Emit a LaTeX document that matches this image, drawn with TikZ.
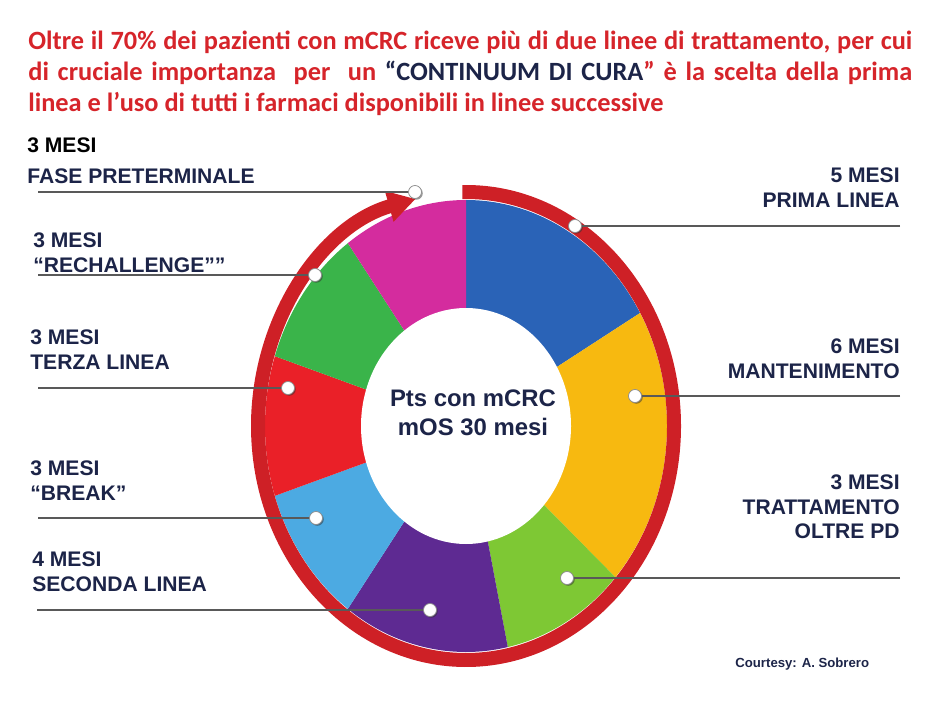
\documentclass[tikz,border=0pt]{standalone}
\usepackage{fontspec}
\setmainfont{Liberation Sans}
\newfontfamily\titlefont{Carlito}
\usetikzlibrary{arrows.meta,shadows}

\definecolor{titlered}{RGB}{214,36,42}
\definecolor{navy}{RGB}{28,36,72}
\definecolor{ringred}{RGB}{206,32,38}
\definecolor{segblue}{RGB}{42,99,183}
\definecolor{segyellow}{RGB}{247,185,16}
\definecolor{seglime}{RGB}{126,200,52}
\definecolor{segpurple}{RGB}{94,42,146}
\definecolor{segsky}{RGB}{76,170,226}
\definecolor{segred}{RGB}{234,32,40}
\definecolor{seggreen}{RGB}{58,180,74}
\definecolor{segmagenta}{RGB}{212,44,158}

\tikzset{
    mesitext/.style={inner sep=0pt, text=navy, font=\bfseries\fontsize{12}{14.2}\selectfont},
    leadline/.style={draw=black!65, line width=0.35mm},
    bead/.style={circle, fill=white, draw=black!45, line width=0.15mm, minimum size=2.6mm, inner sep=0pt,
        drop shadow={shadow xshift=0.25mm, shadow yshift=-0.25mm, fill=black!80}},
}

\begin{document}
\begin{tikzpicture}[x=0.2mm, y=0.2mm]
    \def\cx{466}
    \def\cy{-426}
    \useasboundingbox (0,0) rectangle (938,-704);

    % Title
    \node[anchor=north west, text width=176.8mm, align=justify, inner sep=0pt, text=titlered,
        font=\titlefont\bfseries\fontsize{15}{17.6}\selectfont] (title) at (28,-31)
        {Oltre il 70\% dei pazienti con mCRC riceve più di due linee di trattamento, per cui\linebreak
         di cruciale importanza\ \ per\ \ un {\color{navy}“CONTINUUM DI CURA}” è la scelta della prima\linebreak
         linea e l’uso di tutti i farmaci disponibili in linee successive};

    % Wheel, 12 degrees a month
    \coordinate (c) at (\cx,\cy);
    \foreach \a/\b/\col in {90/30/segblue, 30/-42/segyellow, -42/-78/seglime, -78/-126/segpurple,
                           -126/-162/segsky, -162/-198/segred, -198/-234/seggreen, -234/-270/segmagenta}
        \fill[\col] (c) -- ++(\a:201 and 226) arc[start angle=\a, end angle=\b, x radius=201, y radius=226] -- cycle;
    \fill[white] (c) ellipse[x radius=105, y radius=118];

    % Ring with arrow
    \draw[ringred, line width=2.8mm, -{Triangle[length=5.5mm, width=6mm]}]
        (c) ++(91:208 and 234) arc[start angle=91, end angle=-256, x radius=208, y radius=234];

    \node[font=\bfseries\fontsize{13.6}{16.5}\selectfont, text=navy, align=center] (pts) at (473,-413)
        {Pts con mCRC\\mOS 30 mesi};

    % Labels
    \node[mesitext, anchor=north west, align=left] (pre) at (27,-137)
        {{\color{black}3 MESI}\\[3.4pt]FASE PRETERMINALE};
    \node[mesitext, anchor=north west, align=left] (rech) at (33,-232) {3 MESI\\“RECHALLENGE””};
    \node[mesitext, anchor=north west, align=left] (terza) at (30,-329) {3 MESI\\TERZA LINEA};
    \node[mesitext, anchor=north west, align=left] (brk) at (30,-460) {3 MESI\\“BREAK”};
    \node[mesitext, anchor=north west, align=left] (sec) at (32,-551) {4 MESI\\SECONDA LINEA};
    \node[mesitext, anchor=north east, align=right] (prima) at (900,-167) {5 MESI\\PRIMA LINEA};
    \node[mesitext, anchor=north east, align=right] (mant) at (900,-338) {6 MESI\\MANTENIMENTO};
    \node[mesitext, anchor=north east, align=right] (oltre) at (900,-474) {3 MESI\\TRATTAMENTO\\OLTRE PD};

    % Leader lines and beads
    \foreach \n/\xs/\xd/\y in {pre/38/415/192, rech/38/315/275, terza/38/288/388, brk/38/316/518,
                             sec/37/430/610, prima/900/575/226, mant/900/635/396, oltre/900/567/578} {
        \coordinate (\n end) at (\xs,-\y);
        \node[bead] (\n bead) at (\xd,-\y) {};
        \draw[leadline] (\n end) -- (\n bead);
    }

    \node[anchor=base west, inner sep=0pt, text=navy, font=\bfseries\fontsize{7.5}{9}\selectfont] (credit)
        at (735,-667) {Courtesy: A. Sobrero};
\end{tikzpicture}
\end{document}
